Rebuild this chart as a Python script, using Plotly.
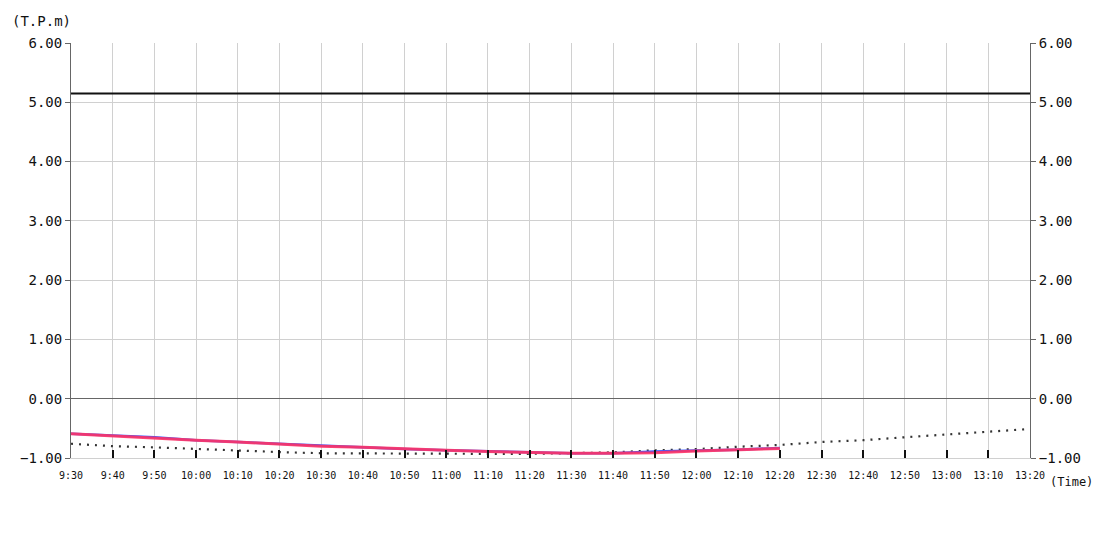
import plotly.graph_objects as go

# time axis, every 10 minutes
times = ["9:30", "9:40", "9:50", "10:00", "10:10", "10:20", "10:30", "10:40",
         "10:50", "11:00", "11:10", "11:20", "11:30", "11:40", "11:50", "12:00",
         "12:10", "12:20", "12:30", "12:40", "12:50", "13:00", "13:10", "13:20"]

# observed (blue / red) up to 12:20
blue = [-0.59, -0.62, -0.65, -0.70, -0.73, -0.77, -0.80, -0.82, -0.85, -0.87,
        -0.89, -0.91, -0.92, -0.92, -0.89, -0.875, -0.86, -0.83]
red = [-0.59, -0.63, -0.66, -0.70, -0.73, -0.77, -0.80, -0.82, -0.85, -0.87,
       -0.89, -0.91, -0.92, -0.92, -0.91, -0.88, -0.86, -0.84]

# forecast (dotted) whole day
forecast = [-0.76, -0.80, -0.82, -0.85, -0.87, -0.90, -0.92, -0.925, -0.93, -0.93,
            -0.93, -0.93, -0.92, -0.905, -0.87, -0.85, -0.81, -0.78, -0.73, -0.70,
            -0.65, -0.60, -0.55, -0.51]

limit = 5.15

y_ticks = [6, 5, 4, 3, 2, 1, 0, -1]


def ts(t):
    h, m = t.split(":")
    return "2024-01-01 %02d:%s" % (int(h), m)


x = [ts(t) for t in times]
font = "DejaVu Sans Mono"

fig = go.Figure()
fig.add_trace(go.Scatter(x=x, y=forecast, mode="lines",
                         line=dict(color="#333333", width=2.2, dash="2px,6px")))
fig.add_trace(go.Scatter(x=x[:len(blue)], y=blue, mode="lines",
                         line=dict(color="#3a5bff", width=2.5)))
fig.add_trace(go.Scatter(x=x[:len(red)], y=red, mode="lines",
                         line=dict(color="#ff3366", width=3), opacity=0.9))
fig.add_trace(go.Scatter(x=[x[0], x[-1]], y=[limit, limit], mode="lines",
                         line=dict(color="#111111", width=2), yaxis="y2"))

# page body has an 8px margin, so the plot box is offset by that
fig.update_layout(
    width=1100, height=550,
    margin=dict(l=63, r=78, t=35, b=100),
    paper_bgcolor="white", plot_bgcolor="white",
    showlegend=False,
    font=dict(family=font, color="#111111"),
    xaxis=dict(
        type="date", range=[x[0], x[-1]],
        tickvals=x, ticktext=times,
        showgrid=True, gridcolor="#d0d0d0", gridwidth=1,
        ticks="inside", ticklen=8, tickcolor="#111111", tickwidth=1.5,
        showline=True, linecolor="#d0d0d0",
        tickfont=dict(size=10, family=font, color="#111111"),
        ticklabelstandoff=8,
        zeroline=False,
    ),
    yaxis=dict(
        range=[-1, 6], tickvals=y_ticks, tickformat=".2f",
        showgrid=True, gridcolor="#d0d0d0",
        zeroline=True, zerolinecolor="#666666", zerolinewidth=1,
        showline=True, linecolor="#666666",
        ticks="outside", ticklen=5, tickcolor="#666666",
        tickfont=dict(size=14, family=font, color="#111111"),
    ),
    yaxis2=dict(
        range=[-1, 6], tickvals=y_ticks, tickformat=".2f",
        overlaying="y", side="right",
        showgrid=False, zeroline=False,
        showline=True, linecolor="#666666",
        ticks="outside", ticklen=5, tickcolor="#666666",
        tickfont=dict(size=14, family=font, color="#111111"),
    ),
    annotations=[
        dict(text="(T.P.m)", xref="paper", yref="paper", x=-0.064, y=1.03,
             xanchor="left", yanchor="bottom", showarrow=False,
             font=dict(size=14, family=font)),
        dict(text="(Time)", xref="paper", yref="paper", x=1.019, y=-0.035,
             xanchor="left", yanchor="top", showarrow=False,
             font=dict(size=12, family=font)),
    ],
)

fig.write_html("out.html")
